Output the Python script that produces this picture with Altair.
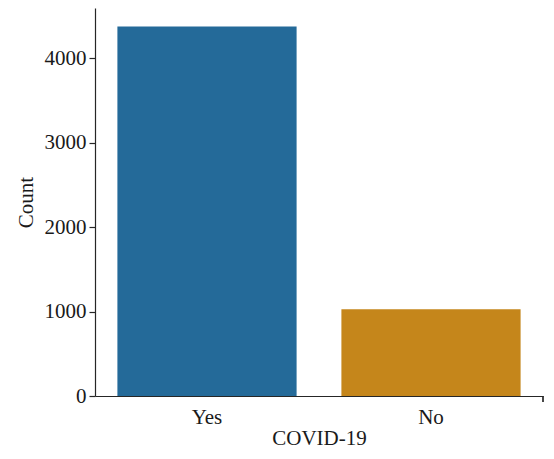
import altair as alt
import pandas as pd

categories = ["Yes", "No"]
counts = [4373, 1028]
colors = ["#246a99", "#c5861b"]

df = pd.DataFrame({"COVID-19": categories, "Count": counts})

FONT = "Liberation Serif"
W, H = 448, 388

bars = alt.Chart(df).mark_bar().encode(
    x=alt.X("COVID-19:N", sort=categories, scale=alt.Scale(paddingInner=0.2, paddingOuter=0.1),
            axis=alt.Axis(title="COVID-19", labelAngle=0, ticks=False, labelPadding=10,
                          titlePadding=0, domainColor="#262626", domainWidth=1.2)),
    y=alt.Y("Count:Q", scale=alt.Scale(domain=[0, 4592], nice=False),
            axis=alt.Axis(title="Count", values=[0, 1000, 2000, 3000, 4000], format="d", grid=False,
                          tickSize=6, tickColor="#262626", tickWidth=1.2, labelPadding=3,
                          titlePadding=8, domainColor="#262626", domainWidth=1.2)),
    color=alt.Color("COVID-19:N", scale=alt.Scale(domain=categories, range=colors), legend=None),
)

ends = alt.Chart(df).mark_rule(color="#262626", strokeWidth=1.2).encode(
    x=alt.value(W), y=alt.value(H), y2=alt.value(H + 6)
)

chart = alt.layer(bars, ends).properties(
    width=W, height=H,
    autosize=alt.AutoSizeParams(type="none"),
    padding={"left": 87, "top": 0, "right": 3, "bottom": 55},
).configure_view(stroke=None).configure_axis(
    labelFont=FONT, titleFont=FONT, labelFontSize=21, titleFontSize=21,
    labelColor="#1a1a1a", titleColor="#1a1a1a", titleFontWeight="normal",
)

chart.save("out.html", embed_options={"renderer": "svg", "actions": False})
